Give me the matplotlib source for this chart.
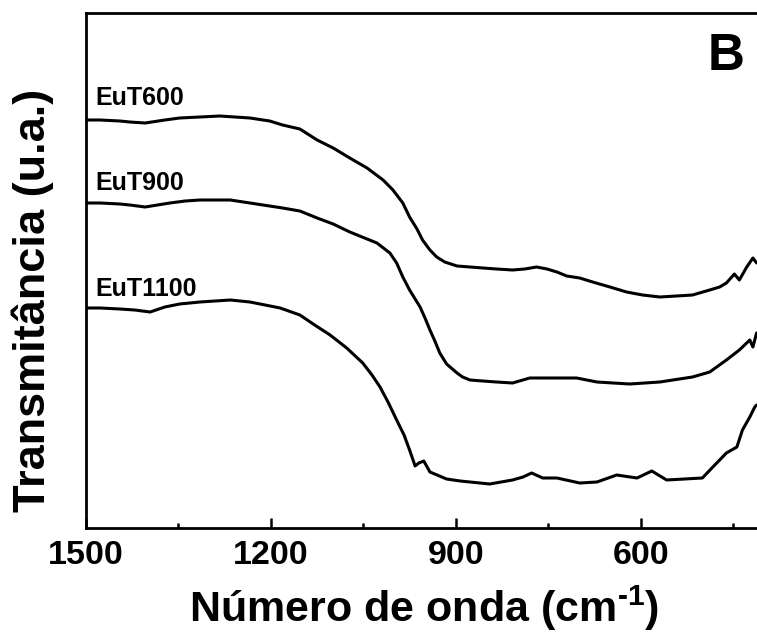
import matplotlib
matplotlib.use("Agg")
import matplotlib.pyplot as plt
from matplotlib.ticker import FixedLocator

plt.rcParams['font.family'] = ['Liberation Sans', 'DejaVu Sans']
plt.rcParams['font.weight'] = 'bold'
plt.rcParams['mathtext.fontset'] = 'custom'
plt.rcParams['mathtext.rm'] = 'Liberation Sans:bold'
plt.rcParams['mathtext.bf'] = 'Liberation Sans:bold'
plt.rcParams['mathtext.default'] = 'rm'

# FTIR spectra (wavenumber in cm^-1, transmittance in arbitrary units, stacked)
wn_600 = [1500, 1477, 1445, 1429, 1404, 1372, 1348, 1315, 1283, 1234, 1202, 1181,
          1153, 1125, 1099, 1072, 1044, 1018, 1002, 986, 975, 963, 954, 942,
          931, 918, 898, 877, 856, 834, 808, 788, 769, 752, 736, 720, 699, 678,
          650, 623, 597, 569, 542, 516, 488, 472, 461, 448, 440, 428, 418, 412]
t_600 = [408, 408, 407, 406, 405, 408, 410, 411, 412, 410, 407, 403,
         399, 388, 380, 370, 360, 348, 338, 325, 311, 299, 288, 278,
         271, 266, 262, 261, 260, 259, 258, 259, 261, 259, 256, 252, 250, 246,
         241, 236, 233, 231, 232, 233, 238, 241, 245, 254, 248, 261, 270, 265]

wn_900 = [1500, 1477, 1445, 1429, 1404, 1364, 1339, 1315, 1266, 1234, 1181, 1153,
          1125, 1099, 1072, 1048, 1028, 1007, 996, 986, 975, 958, 950, 942,
          934, 926, 915, 898, 889, 877, 856, 834, 808, 780, 752, 704, 671, 618,
          569, 516, 488, 461, 440, 423, 418, 412]
t_900 = [325, 325, 324, 323, 321, 325, 327, 328, 328, 325, 320, 317,
         310, 304, 296, 290, 285, 275, 265, 251, 238, 221, 210, 198,
         187, 175, 164, 155, 151, 148, 147, 146, 145, 150, 150, 150, 146, 144,
         146, 151, 156, 168, 178, 188, 181, 195]

wn_1100 = [1500, 1477, 1445, 1421, 1396, 1372, 1348, 1315, 1266, 1234, 1185, 1153,
           1129, 1104, 1077, 1051, 1036, 1023, 1010, 996, 984, 975, 966, 960,
           952, 942, 915, 893, 877, 845, 808, 791, 777, 759, 736, 699, 671, 639,
           606, 582, 558, 500, 483, 461, 444, 435, 423, 415, 412]
t_1100 = [220, 220, 219, 218, 216, 221, 224, 226, 228, 226, 220, 213,
          203, 193, 180, 165, 153, 141, 126, 108, 93, 78, 62, 65,
          67, 56, 49, 47, 46, 44, 48, 51, 55, 50, 50, 45, 46, 53,
          50, 57, 48, 50, 61, 75, 81, 98, 111, 121, 123]

series = [
    ("EuT600", wn_600, t_600, 423),
    ("EuT900", wn_900, t_900, 338),
    ("EuT1100", wn_1100, t_1100, 232),
]

major_ticks = [1500, 1200, 900, 600]
minor_ticks = [1350, 1050, 750, 450]

fig = plt.figure(figsize=(7.57, 6.33), dpi=100)
ax = fig.add_axes([86 / 757, 1 - 528 / 633, 678 / 757, 515 / 633])

for name, wn, t, label_y in series:
    ax.plot(wn, t, color='black', lw=2.2, solid_joinstyle='round',
            solid_capstyle='round')
    ax.text(1485, label_y, name, fontsize=18, fontweight='bold',
            ha='left', va='baseline')

ax.set_xlim(1500, 400)
ax.set_ylim(0, 515)

ax.xaxis.set_major_locator(FixedLocator(major_ticks))
ax.xaxis.set_minor_locator(FixedLocator(minor_ticks))
ax.set_xticklabels([str(v) for v in major_ticks])
ax.tick_params(axis='x', which='major', direction='in', length=7.5, width=1.8,
               labelsize=24.5, pad=9)
ax.tick_params(axis='x', which='minor', direction='in', length=3.8, width=1.8)
ax.set_yticks([])

for side in ['left', 'bottom', 'top']:
    ax.spines[side].set_linewidth(2.0)
ax.spines['right'].set_visible(False)

ax.text(0.917, 0.889, "B", transform=ax.transAxes, fontsize=37,
        fontweight='bold', ha='left', va='baseline')

fig.text(424 / 757, 1 - 622 / 633, r"Número de onda (cm$^{\text{-1}}$)",
         fontsize=31, fontweight='bold', ha='center', va='baseline')
fig.text(33 / 757, 1 - 300 / 633, "Transmitância (u.a.)", rotation=90,
         fontsize=32.5, fontweight='bold', ha='center', va='center')

fig.savefig("out.png", dpi=100)
